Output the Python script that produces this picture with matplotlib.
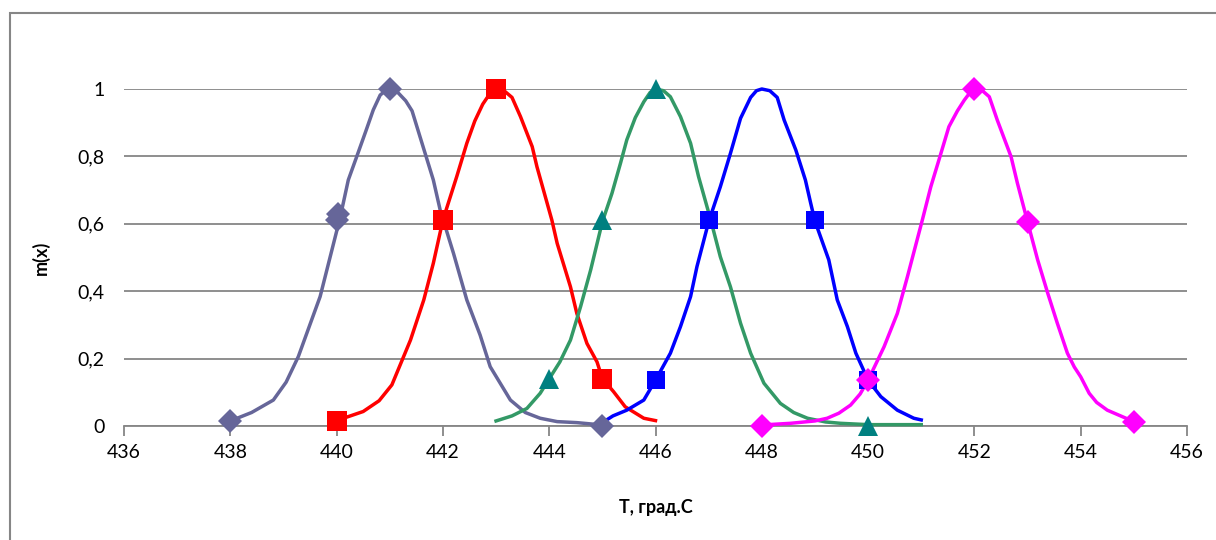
import numpy as np
import matplotlib.pyplot as plt
from matplotlib.patches import Rectangle

plt.rcParams['font.family'] = ['Lato', 'DejaVu Sans']

# curve 1 (slate, diamonds)
t1 = [438.0, 438.4, 438.81, 439.05, 439.28, 439.69, 440.07, 440.22, 440.38, 440.55,
      440.69, 440.82, 440.92, 441.0, 441.15, 441.3, 441.42, 441.57, 441.82, 441.95,
      442.2, 442.45, 442.7, 442.89, 443.27, 443.55, 443.83, 444.15, 444.52, 445.0]
m1 = [0.015, 0.04, 0.077, 0.13, 0.206, 0.384, 0.621, 0.73, 0.80, 0.875,
      0.938, 0.982, 0.995, 1.0, 0.99, 0.965, 0.935, 0.858, 0.73, 0.64,
      0.512, 0.374, 0.27, 0.176, 0.077, 0.04, 0.023, 0.013, 0.01, 0.003]
t1_mark = [438, 440, 440.03, 441, 445]
m1_mark = [0.015, 0.612, 0.628, 1.0, 0.0]

# curve 2 (red, squares)
t2 = [440.0, 440.5, 440.8, 441.04, 441.39, 441.64, 441.82, 442.0, 442.26, 442.45,
      442.6, 442.75, 442.9, 443.0, 443.15, 443.3, 443.46, 443.68, 443.77, 444.05,
      444.15, 444.4, 444.52, 444.71, 444.9, 445.0, 445.21, 445.43, 445.78, 446.0]
m2 = [0.016, 0.043, 0.075, 0.122, 0.255, 0.374, 0.483, 0.611, 0.74, 0.839,
      0.905, 0.955, 0.99, 1.0, 0.995, 0.975, 0.918, 0.829, 0.769, 0.611,
      0.542, 0.413, 0.334, 0.245, 0.19, 0.141, 0.102, 0.057, 0.023, 0.016]
t2_mark = [440, 442, 443, 445]
m2_mark = [0.015, 0.61, 1.0, 0.14]

# curve 3 (green line, teal triangles)
t3 = [443.0, 443.3, 443.58, 443.83, 444.0, 444.2, 444.4, 444.59, 444.78, 445.0,
      445.18, 445.34, 445.46, 445.62, 445.78, 445.9, 446.0, 446.15, 446.28, 446.47,
      446.66, 446.81, 447.04, 447.22, 447.41, 447.6, 447.79, 448.04, 448.35, 448.6,
      448.86, 449.2, 449.48, 450.0, 450.5, 451.0]
m3 = [0.015, 0.03, 0.052, 0.097, 0.14, 0.19, 0.255, 0.354, 0.463, 0.606,
      0.69, 0.779, 0.849, 0.915, 0.962, 0.99, 1.0, 0.995, 0.977, 0.918,
      0.839, 0.74, 0.611, 0.502, 0.413, 0.305, 0.216, 0.127, 0.067, 0.04,
      0.023, 0.012, 0.008, 0.004, 0.004, 0.004]
t3_mark = [444, 445, 446, 450]
m3_mark = [0.14, 0.61, 1.0, 0.0]

# curve 4 (blue, squares)
t4 = [445.0, 445.2, 445.46, 445.78, 446.0, 446.28, 446.47, 446.66, 446.78, 447.0,
      447.22, 447.41, 447.6, 447.79, 447.9, 448.0, 448.15, 448.29, 448.42, 448.64,
      448.82, 448.92, 449.0, 449.26, 449.42, 449.61, 449.77, 450.0, 450.24, 450.55,
      450.86, 451.0]
m4 = [0.01, 0.03, 0.047, 0.077, 0.136, 0.216, 0.295, 0.384, 0.473, 0.606,
      0.71, 0.809, 0.913, 0.975, 0.995, 1.0, 0.995, 0.975, 0.908, 0.819,
      0.73, 0.661, 0.608, 0.493, 0.374, 0.295, 0.216, 0.136, 0.087, 0.047,
      0.023, 0.018]
t4_mark = [446, 447, 449, 450]
m4_mark = [0.136, 0.61, 0.61, 0.136]

# curve 5 (magenta, diamonds)
t5 = [448.0, 448.54, 449.0, 449.23, 449.45, 449.67, 449.85, 450.0, 450.3, 450.55,
      450.74, 451.02, 451.18, 451.37, 451.52, 451.68, 451.81, 451.92, 452.0, 452.15,
      452.28, 452.43, 452.69, 452.81, 453.0, 453.19, 453.38, 453.56, 453.75, 453.88,
      454.0, 454.16, 454.3, 454.5, 454.75, 455.0]
m5 = [0.003, 0.008, 0.015, 0.023, 0.038, 0.062, 0.095, 0.136, 0.235, 0.334,
      0.443, 0.611, 0.71, 0.809, 0.888, 0.935, 0.967, 0.99, 1.0, 0.995,
      0.977, 0.908, 0.799, 0.72, 0.606, 0.493, 0.394, 0.305, 0.216, 0.175,
      0.146, 0.097, 0.07, 0.047, 0.03, 0.013]
t5_mark = [448, 450, 452, 453, 455]
m5_mark = [0.0, 0.136, 1.0, 0.606, 0.013]

xTicks = np.arange(436, 457, 2)
yTicks = [0, 0.2, 0.4, 0.6, 0.8, 1.0]
yTickLabels = ['0', '0,2', '0,4', '0,6', '0,8', '1']

fig = plt.figure(figsize=(12.16, 5.4), dpi=100)
ax = fig.add_axes([124/1216, 1 - 426/540, (1187 - 124)/1216, (426 - 89)/540])

lw = 2.5
series = [
	(t1, m1, t1_mark, m1_mark, '#666699', '#666699', 'D', 12),
	(t2, m2, t2_mark, m2_mark, '#ff0000', '#ff0000', 's', 14),
	(t3, m3, t3_mark, m3_mark, '#339966', '#008080', '^', 14),
	(t4, m4, t4_mark, m4_mark, '#0000ff', '#0000ff', 's', 13),
	(t5, m5, t5_mark, m5_mark, '#ff00ff', '#ff00ff', 'D', 12),
]
for t, m, tm, mm, lc, mc, mk, ms in series:
	ax.plot(t, m, '-', color=lc, linewidth=lw, clip_on=False, zorder=3)
	ax.plot(tm, mm, linestyle='none', marker=mk, color=mc, markersize=ms,
		markeredgewidth=0, clip_on=False, zorder=4)

ax.set_xlim(436, 456)
ax.set_ylim(0, 1)
ax.set_xticks(xTicks)
ax.set_yticks(yTicks)
ax.set_yticklabels(yTickLabels)
ax.grid(True, axis='y', color='#868686', linewidth=1.3)
ax.set_axisbelow(True)

for side in ('top', 'right', 'left'):
	ax.spines[side].set_visible(False)
ax.spines['bottom'].set_color('#868686')
ax.spines['bottom'].set_linewidth(1.3)
ax.tick_params(axis='x', direction='out', length=7, width=1.3, color='#868686',
	labelsize=14, pad=6)
ax.tick_params(axis='y', length=0, labelsize=14, pad=14)

ax.set_xlabel('T, град.С', fontsize=13, fontweight='bold', labelpad=27)
ax.set_ylabel('m(x)', fontsize=13, fontweight='bold', labelpad=20)

fig.patches.append(Rectangle((10/1216, -0.1), 1.2, 1.1 - 13/540, transform=fig.transFigure,
	fill=False, edgecolor='#868686', linewidth=1.5))

fig.savefig('out.png', dpi=100)
